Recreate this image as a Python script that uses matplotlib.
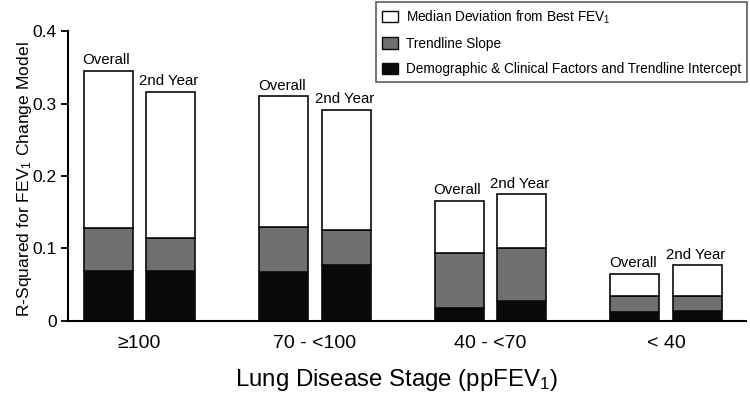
import numpy as np
import matplotlib
matplotlib.use("Agg")
import matplotlib.pyplot as plt
from matplotlib.patches import Patch

plt.rcParams['font.family'] = ['Liberation Sans', 'DejaVu Sans']
plt.rcParams['mathtext.default'] = 'regular'

# data
stages = ['≥100', '70 - <100', '40 - <70', '< 40']
demo_overall = [0.069, 0.067, 0.018, 0.012]
slope_overall = [0.059, 0.063, 0.076, 0.023]
median_overall = [0.217, 0.180, 0.072, 0.030]
demo_2nd = [0.069, 0.077, 0.027, 0.014]
slope_2nd = [0.045, 0.049, 0.074, 0.020]
median_2nd = [0.202, 0.165, 0.074, 0.043]

WHITE, GREY, BLACK = '#ffffff', '#707070', '#0a0a0a'

fig = plt.figure(figsize=(7.5, 4.03), dpi=100)
ax = fig.add_axes([0.0907, 0.2035, 0.904, 0.7195])

x = np.arange(len(stages))
off, w = 0.178, 0.28

for xpos, demo, slope, med, lab in [(x - off, demo_overall, slope_overall, median_overall, 'Overall'),
                                     (x + off, demo_2nd, slope_2nd, median_2nd, '2nd Year')]:
    demo = np.array(demo)
    slope = np.array(slope)
    med = np.array(med)
    ax.bar(xpos, demo, w, color=BLACK, edgecolor=BLACK, linewidth=1.2)
    ax.bar(xpos, slope, w, bottom=demo, color=GREY, edgecolor=BLACK, linewidth=1.2)
    ax.bar(xpos, med, w, bottom=demo + slope, color=WHITE, edgecolor=BLACK, linewidth=1.2)
    tops = demo + slope + med
    for xi, t in zip(xpos, tops):
        ax.text(xi - 0.01, t + 0.005, lab, ha='center', va='bottom', fontsize=10.8)

ax.set_xlim(-0.407, 3.456)
ax.set_ylim(0, 0.4)
ax.set_yticks([0, 0.1, 0.2, 0.3, 0.4])
ax.set_yticklabels(['0', '0.1', '0.2', '0.3', '0.4'], fontsize=12.5)
ax.set_xticks(x)
ax.set_xticklabels(stages, fontsize=14)
ax.tick_params(axis='x', length=0, pad=10)
ax.tick_params(axis='y', length=5, width=1.3, pad=3)
for s in ['top', 'right']:
    ax.spines[s].set_visible(False)
for s in ['left', 'bottom']:
    ax.spines[s].set_linewidth(1.5)

ax.set_ylabel('R-Squared for FEV$_1$ Change Model', fontsize=12.6)
ax.yaxis.set_label_coords(-0.05, 0.49)
ax.set_xlabel('Lung Disease Stage (ppFEV$_1$)', fontsize=17.3, labelpad=10)
ax.xaxis.set_label_coords(0.484, -0.16)

handles = [Patch(facecolor=WHITE, edgecolor=BLACK, label='Median Deviation from Best FEV$_1$'),
           Patch(facecolor=GREY, edgecolor=BLACK, label='Trendline Slope'),
           Patch(facecolor=BLACK, edgecolor=BLACK, label='Demographic & Clinical Factors and Trendline Intercept')]
leg = fig.legend(handles=handles, loc='upper right', bbox_to_anchor=(0.996, 0.995),
                 fontsize=9.8, frameon=True, fancybox=False, handlelength=1.15,
                 handleheight=0.9, handletextpad=0.6, labelspacing=0.82,
                 borderpad=0.45, borderaxespad=0)
leg.get_frame().set_edgecolor('#333333')
leg.get_frame().set_linewidth(1.2)

fig.savefig('out.png', dpi=100)
